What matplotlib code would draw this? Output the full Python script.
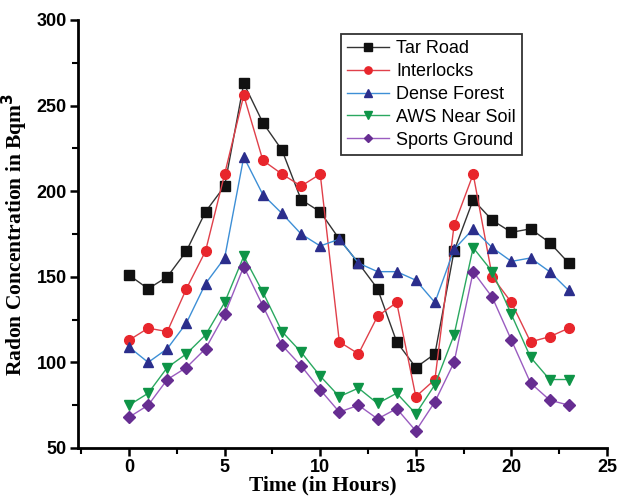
import matplotlib
matplotlib.use("Agg")
import matplotlib.pyplot as plt
from matplotlib.ticker import MultipleLocator

hours = list(range(24))

tar_road = [151, 143, 150, 165, 188, 203, 263, 240, 224, 195, 188, 172,
            158, 143, 112, 97, 105, 165, 195, 183, 176, 178, 170, 158]
interlocks = [113, 120, 118, 143, 165, 210, 256, 218, 210, 203, 210, 112,
              105, 127, 135, 80, 90, 180, 210, 150, 135, 112, 115, 120]
dense_forest = [109, 100, 108, 123, 146, 161, 220, 198, 187, 175, 168, 172,
                158, 153, 153, 148, 135, 166, 178, 167, 159, 161, 153, 142]
aws_near_soil = [75, 82, 97, 105, 116, 135, 162, 141, 118, 106, 92, 80,
                 85, 76, 82, 70, 87, 116, 167, 153, 128, 103, 90, 90]
sports_ground = [68, 75, 90, 97, 108, 128, 156, 133, 110, 98, 84, 71,
                 75, 67, 73, 60, 77, 100, 153, 138, 113, 88, 78, 75]

series = [
    ("Tar Road", tar_road, "s", "#333333", "#111111"),
    ("Interlocks", interlocks, "o", "#e0404a", "#e8262c"),
    ("Dense Forest", dense_forest, "^", "#3d8fd6", "#2b2e8c"),
    ("AWS Near Soil", aws_near_soil, "v", "#2aa860", "#0e9447"),
    ("Sports Ground", sports_ground, "D", "#9a5cc0", "#662d91"),
]

fig = plt.figure(figsize=(6.18, 4.96), dpi=100)
ax = fig.add_axes([78 / 618, 48 / 496, 529 / 618, 428 / 496])

for name, vals, mk, lc, mc in series:
    ms = 6 if mk == "D" else 7
    ax.plot(hours, vals, color=lc, lw=1.0, marker=mk, ms=ms,
            markerfacecolor=mc, markeredgecolor=mc, label=name)

ax.set_xlim(-2.67, 25)
ax.set_ylim(50, 300)
ax.xaxis.set_major_locator(MultipleLocator(5))
ax.xaxis.set_minor_locator(MultipleLocator(2.5))
ax.yaxis.set_major_locator(MultipleLocator(50))
ax.yaxis.set_minor_locator(MultipleLocator(25))

for s in ("top", "right"):
    ax.spines[s].set_visible(False)
for s in ("left", "bottom"):
    ax.spines[s].set_linewidth(2)
ax.tick_params(which="major", length=6, width=1.8, direction="out", pad=2)
ax.tick_params(which="minor", length=4, width=1.5, direction="out")
for lab in ax.get_xticklabels() + ax.get_yticklabels():
    lab.set_fontfamily("Liberation Sans")
    lab.set_fontweight("bold")
    lab.set_fontsize(13)

ax.set_xlabel("Time (in Hours)", family="Liberation Serif", weight="bold",
              fontsize=15.5)
ax.xaxis.set_label_coords(0.463, -0.064)
ax.set_ylabel("Radon Concentration in Bqm$^\\mathbf{3}$", family="Liberation Serif",
              weight="bold", fontsize=15.5)
ax.yaxis.set_label_coords(-0.09, 0.5)

leg = ax.legend(loc="upper left", bbox_to_anchor=(0.497, 0.967), frameon=True,
                fancybox=False, edgecolor="black", borderaxespad=0,
                prop={"family": "Liberation Sans", "size": 13},
                handlelength=2.3, handletextpad=0.4, borderpad=0.35,
                labelspacing=0.32, markerscale=0.75)
leg.get_frame().set_linewidth(1.3)

fig.savefig("out.png", dpi=100, facecolor="white")
